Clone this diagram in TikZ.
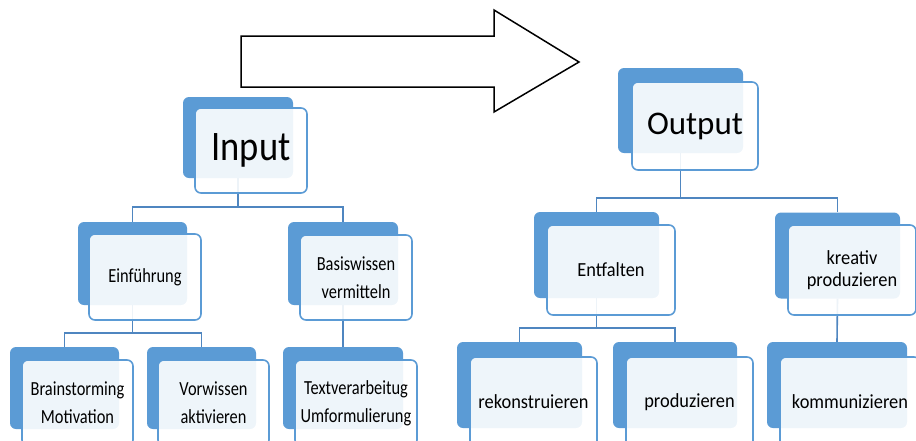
\documentclass[tikz,border=0pt]{standalone}
\usepackage{fontspec}
\setmainfont{Carlito}
\newfontfamily\leftfont[FakeStretch=0.82]{Carlito}
\newfontfamily\rightfont[FakeStretch=0.92]{Carlito}
\newfontfamily\inputfont[FakeStretch=0.87]{Carlito}
\usepackage{xcolor}
\usepackage{tikz}
\usetikzlibrary{positioning,calc}

\definecolor{boxblue}{HTML}{5B9BD5}
\definecolor{linkblue}{HTML}{4F86C0}

\tikzset{
    backbox/.style={fill=boxblue, rounded corners=6pt, inner sep=0pt},
    frontbox/.style={draw=boxblue, line width=1.6pt, fill=white, fill opacity=0.9, text opacity=1,
        rounded corners=6pt, align=center, inner sep=0pt, text=black},
    link/.style={draw=linkblue, line width=1.6pt},
    lefttext/.style={font=\leftfont\fontsize{20}{28}\selectfont},
    righttext/.style={font=\rightfont\fontsize{20}{24}\selectfont}
}

\begin{document}
\begin{tikzpicture}[x=1pt, y=-1pt]
    \useasboundingbox (0,0) rectangle (916,440);
    \clip (0,0) rectangle (916,440);

    % Arrow
    \draw[line width=1.5pt, fill=white] (241,36) -- (494,36) -- (494,10) -- (579,62)
        -- (494,112) -- (494,87) -- (241,87) -- cycle;

    % Back boxes
    \node[backbox, minimum width=110pt, minimum height=81pt] at (238,137.5) (inB) {};
    \node[backbox, minimum width=109pt, minimum height=83pt] at (132.5,263.5) (einB) {};
    \node[backbox, minimum width=110pt, minimum height=83pt] at (343,263.5) (basB) {};
    \node[backbox, minimum width=109pt, minimum height=82pt] at (64.5,388) (brB) {};
    \node[backbox, minimum width=109pt, minimum height=82pt] at (201.5,388) (vorB) {};
    \node[backbox, minimum width=120pt, minimum height=82pt] at (343,388) (txtB) {};

    \node[backbox, minimum width=125pt, minimum height=85pt] at (680.5,110.5) (outB) {};
    \node[backbox, minimum width=125pt, minimum height=86pt] at (596.5,255) (entB) {};
    \node[backbox, minimum width=125pt, minimum height=86pt] at (837.5,255.5) (krB) {};
    \node[backbox, minimum width=125pt, minimum height=86pt] at (519.5,385) (rekB) {};
    \node[backbox, minimum width=124pt, minimum height=86pt] at (675,385) (proB) {};
    \node[backbox, minimum width=140pt, minimum height=86pt] at (837,385) (komB) {};

    % Connectors
    \coordinate (inJ) at (238,207);
    \draw[link] (inB.south) -- (inJ) -| (einB.north);
    \draw[link] (inJ) -| (basB.north);
    \coordinate (einJ) at (132.5,333);
    \draw[link] (einB.south) -- (einJ) -| (brB.north);
    \draw[link] (einJ) -| (vorB.north);
    \draw[link] (basB.south) -- (txtB.north);

    \coordinate (outJ) at (680.5,198);
    \draw[link] (outB.south) -- (outJ) -| (entB.north);
    \draw[link] (outJ) -| (krB.north);
    \coordinate (entJ) at (596.5,328);
    \draw[link] (entB.south) -- (entJ) -| (rekB.north);
    \draw[link] (entJ) -| (proB.north);
    \draw[link] (krB.south) -- (komB.north);

    % Front boxes
    \node[frontbox, minimum width=112pt, minimum height=85pt, font=\inputfont\fontsize{42}{42}\selectfont]
        at (251,150.5) (in) {Input};
    \node[frontbox, lefttext, minimum width=112pt, minimum height=86pt] at (145,277) (ein) {Einführung};
    \node[frontbox, lefttext, minimum width=112pt, minimum height=85pt] at (356,277.5) (bas) {Basiswissen\\vermitteln};
    \node[frontbox, lefttext, minimum width=111pt, minimum height=86pt] at (77.5,403) (br) {Brainstorming\\Motivation};
    \node[frontbox, lefttext, minimum width=111pt, minimum height=86pt] at (213.5,403) (vor) {Vorwissen\\aktivieren};
    \node[frontbox, lefttext, minimum width=122pt, minimum height=86pt] at (356,403) (txt) {Textverarbeitug\\Umformulierung};

    \node[frontbox, minimum width=126pt, minimum height=88pt, font=\fontsize{33}{33}\selectfont]
        at (695,126) (out) {Output};
    \node[frontbox, righttext, minimum width=128pt, minimum height=90pt] at (611,270) (ent) {Entfalten};
    \node[frontbox, righttext, minimum width=128pt, minimum height=90pt, font=\rightfont\fontsize{20}{22}\selectfont]
        at (852,270) (kr) {kreativ\\produzieren};
    \node[frontbox, righttext, minimum width=127pt, minimum height=90pt] at (533.5,402) (rek) {rekonstruieren};
    \node[frontbox, righttext, minimum width=127pt, minimum height=90pt] at (689.5,402) (pro) {produzieren};
    \node[frontbox, righttext, minimum width=140pt, minimum height=90pt] at (850,402) (kom) {kommunizieren};
\end{tikzpicture}
\end{document}
